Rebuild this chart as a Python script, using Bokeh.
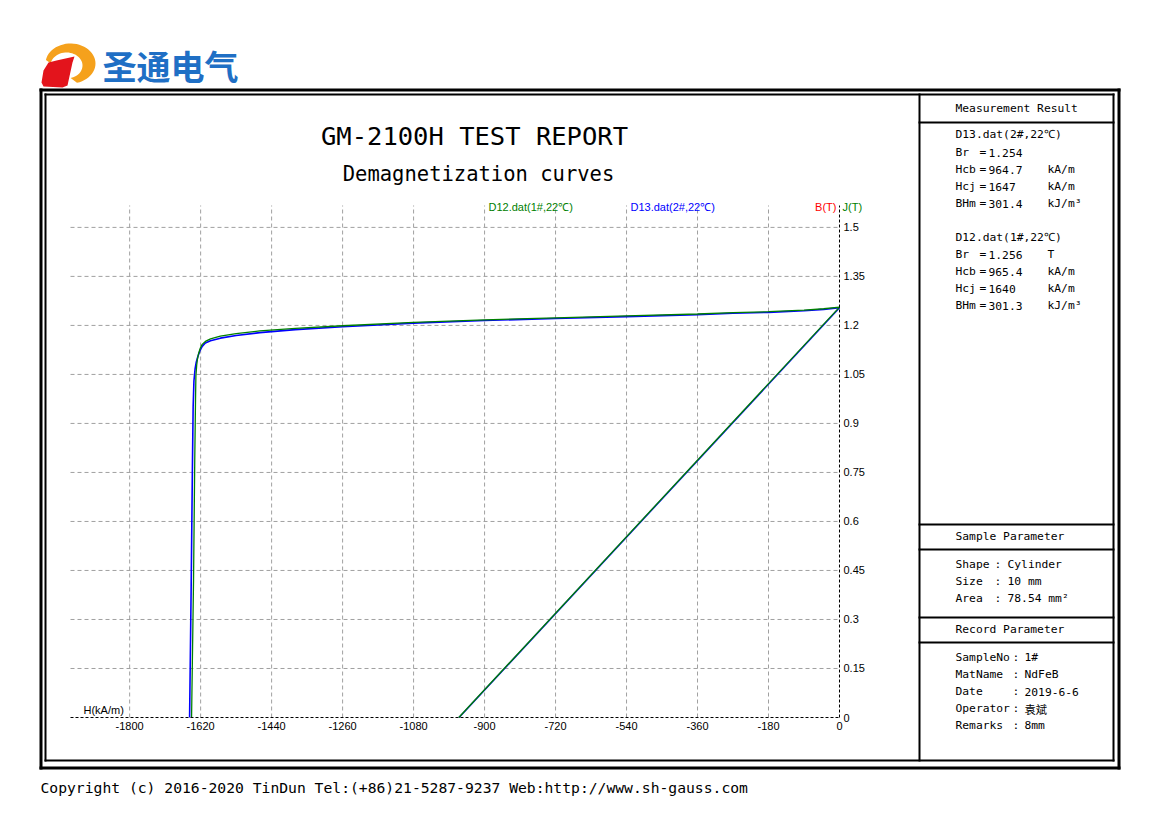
import numpy as np
from bokeh.plotting import figure
from bokeh.models import Range1d
from bokeh.core.properties import value
from bokeh.embed import file_html
from bokeh.resources import INLINE

# ---------------- data ----------------
# D13.dat (2#, 22C) : J(H) demagnetization curve (blue)
H_D13 = [0, -40, -90, -180, -270, -360, -540, -720, -900, -1080, -1260, -1380, -1470,
         -1530, -1570, -1595, -1608, -1616, -1622, -1627, -1631, -1634, -1637, -1639,
         -1641, -1644, -1648]
J_D13 = [1.254, 1.249, 1.245, 1.240, 1.237, 1.233, 1.227, 1.221, 1.215, 1.207, 1.196,
         1.187, 1.178, 1.169, 1.161, 1.153, 1.146, 1.136, 1.122, 1.105, 1.088, 1.068,
         1.030, 0.95, 0.75, 0.40, 0.0]
# D12.dat (1#, 22C) : J(H) demagnetization curve (green)
H_D12 = [0, -40, -90, -180, -270, -360, -540, -720, -900, -1080, -1260, -1380, -1470,
         -1530, -1570, -1595, -1608, -1616, -1621, -1625, -1628, -1630, -1632, -1633,
         -1635, -1638, -1643]
J_D12 = [1.256, 1.251, 1.247, 1.242, 1.239, 1.235, 1.229, 1.223, 1.217, 1.209, 1.199,
         1.191, 1.183, 1.175, 1.167, 1.159, 1.151, 1.142, 1.130, 1.115, 1.098, 1.078,
         1.045, 0.97, 0.78, 0.42, 0.0]
# B(H) lines: from (-Hcb, 0) to (0, Br)
B_H_D13 = [-964.7, 0]
B_B_D13 = [0, 1.254]
B_H_D12 = [-965.4, 0]
B_B_D12 = [0, 1.256]

X_TICKS = [-1800, -1620, -1440, -1260, -1080, -900, -720, -540, -360, -180, 0]
Y_TICKS = [0, 0.15, 0.3, 0.45, 0.6, 0.75, 0.9, 1.05, 1.2, 1.35, 1.5]
X_TICK_LABELS = [f"{v:g}" for v in X_TICKS]
Y_TICK_LABELS = [f"{v:g}" for v in Y_TICKS]

RESULT_D13 = [("Br", "1.254", ""), ("Hcb", "964.7", "kA/m"),
              ("Hcj", "1647", "kA/m"), ("BHm", "301.4", "kJ/m³")]
RESULT_D12 = [("Br", "1.256", "T"), ("Hcb", "965.4", "kA/m"),
              ("Hcj", "1640", "kA/m"), ("BHm", "301.3", "kJ/m³")]
SAMPLE_PARAMS = [("Shape", "Cylinder"), ("Size", "10 mm"), ("Area", "78.54 mm²")]
RECORD_PARAMS = [("SampleNo", "1#"), ("MatName", "NdFeB"), ("Date", "2019-6-6"),
                 ("Operator", "袁斌"), ("Remarks", "8mm")]

BLUE = "#0000ff"
GREEN = "#008000"

# ---------------- layout ----------------
W, HGT = 1169, 827
# plot-area position on the page (pixels) and its axis limits
FL, FR, FT, FB = 70, 839, 205, 717
H_MIN, H_MAX = -1950.0, 0.0
J_MIN, J_MAX = 0.0, 1.567
sx = (H_MAX - H_MIN) / (FR - FL)
sy = (J_MAX - J_MIN) / (FB - FT)
H_RANGE = Range1d(H_MIN - FL * sx, H_MAX + (W - FR) * sx)
J_RANGE = Range1d(J_MIN - (HGT - FB) * sy, J_MAX + FT * sy)

p = figure(width=W, height=HGT, x_range=Range1d(0, W), y_range=Range1d(HGT, 0),
           output_backend="svg", toolbar_location=None,
           x_axis_type=None, y_axis_type=None, min_border=0)
p.outline_line_color = None
p.background_fill_color = "white"
p.border_fill_color = "white"
p.extra_x_ranges = {"H": H_RANGE}
p.extra_y_ranges = {"J": J_RANGE}

D = dict(x_range_name="H", y_range_name="J")


def txt(xs, ys, texts, size="11px", font="Liberation Sans", color="black",
        align="left", style="normal", xr="default", yr="default"):
    p.text(x=xs, y=ys, text=texts, text_font=value(font), text_font_size=size,
           text_color=color, text_align=align, text_baseline="middle",
           text_font_style=style, x_range_name=xr, y_range_name=yr)


# ---------------- grid & axes ----------------
gx = [t for t in X_TICKS if t != H_MAX]
gy = [t for t in Y_TICKS if t != J_MIN]
p.segment(x0=gx, y0=[J_MIN] * len(gx), x1=gx, y1=[J_MAX] * len(gx),
          line_color="#a0a0a0", line_dash="4 3", line_width=1, **D)
p.segment(x0=[H_MIN] * len(gy), y0=gy, x1=[H_MAX] * len(gy), y1=gy,
          line_color="#a0a0a0", line_dash="4 3", line_width=1, **D)

# ---------------- curves ----------------
p.line(B_H_D13, B_B_D13, line_color=BLUE, line_width=1.5, **D)
p.line(H_D13, J_D13, line_color=BLUE, line_width=1.6, **D)
p.line(B_H_D12, B_B_D12, line_color=GREEN, line_width=1.3, **D)
p.line(H_D12, J_D12, line_color=GREEN, line_width=1.3, **D)

# axis lines (dashed black)
p.segment(x0=[H_MIN, H_MAX], y0=[J_MIN, J_MIN], x1=[H_MAX, H_MAX], y1=[J_MIN, J_MAX],
          line_color="black", line_dash="3 2", line_width=1, **D)
# tick labels
txt(X_TICKS, [725] * len(X_TICKS), X_TICK_LABELS, align="center", xr="H")
txt([843] * len(Y_TICKS), Y_TICKS, Y_TICK_LABELS, yr="J")


# ---------------- decorations ----------------
def box(x0, x1, y0, y1, color="black"):
    p.quad(left=x0, right=x1, top=y0, bottom=y1, fill_color=color, line_color=None)


# outer frame (thick) and inner frame (thin)
box(39, 1120, 88, 91)
box(39, 1120, 766, 769)
box(39, 42, 88, 769)
box(1117, 1120, 88, 769)
box(44, 1114, 93, 95)
box(44, 1114, 759, 761)
box(44, 46, 93, 761)
box(1112, 1114, 93, 761)
# right panel separators
box(918, 920, 93, 761)
box(918, 1114, 121, 123)
box(918, 1114, 523, 525)
box(918, 1114, 548, 550)
box(918, 1114, 616, 618)
box(918, 1114, 641, 643)

MONO = "DejaVu Sans Mono"
PS = "11.3px"


def table(rows, y_start, cols):
    for i, row in enumerate(rows):
        yy = y_start + 17 * i
        for cx, item in zip(cols, row):
            if item:
                font = "Noto Sans CJK SC" if item == "袁斌" else MONO
                txt([cx], [yy], [item], PS, font)


txt([955], [108], ["Measurement Result"], PS, MONO)
txt([955], [134], ["D13.dat(2#,22℃)"], PS, MONO)
table([(n, "=", v, u) for n, v, u in RESULT_D13], 152, (955, 979, 988, 1047))
txt([955], [237], ["D12.dat(1#,22℃)"], PS, MONO)
table([(n, "=", v, u) for n, v, u in RESULT_D12], 254, (955, 979, 988, 1047))

txt([955], [536], ["Sample Parameter"], PS, MONO)
table([(n, ":", v) for n, v in SAMPLE_PARAMS], 564, (955, 994, 1007))
txt([955], [629], ["Record Parameter"], PS, MONO)
table([(n, ":", v) for n, v in RECORD_PARAMS], 657, (955, 1012, 1024))

# titles
txt([474], [135], ["GM-2100H TEST REPORT"], "25.5px", MONO, align="center")
txt([478], [173], ["Demagnetization curves"], "20.5px", MONO, align="center")

# series captions / axis captions
txt([488], [206], ["D12.dat(1#,22℃)"], "11px", "Liberation Sans", GREEN)
txt([630], [206], ["D13.dat(2#,22℃)"], "11px", "Liberation Sans", BLUE)
txt([836], [206], ["B(T)"], "11px", "Liberation Sans", "#ff0000", align="right")
txt([842], [206], ["J(T)"], "11px", "Liberation Sans", GREEN)
txt([83], [709], ["H(kA/m)"], "11px", "Liberation Sans")

# footer
txt([40], [787], ["Copyright (c) 2016-2020 TinDun  Tel:(+86)21-5287-9237 Web:http://www.sh-gauss.com"],
    "14.7px", MONO)

# logo: orange crescent + red shape + blue company name
t_out = np.linspace(np.radians(170), np.radians(-75), 40)
t_in = t_out[::-1]
cres_x = list(70 + 25 * np.cos(t_out)) + list(66 + 16 * np.cos(t_in))
cres_y = list(63 - 20 * np.sin(t_out)) + list(65 - 13 * np.sin(t_in))
p.patch(cres_x, cres_y, fill_color="#f5a11c", line_color=None)
p.patch([48, 56, 74, 72, 67, 62, 43, 41, 43], [62, 60, 56, 62, 85, 87, 86, 82, 70],
        fill_color="#e3141c", line_color=None)
txt([102], [65], ["圣通电气"], "34px", "Noto Sans CJK SC", "#1f6fc5", style="bold")

open("out.html", "w").write(file_html(p, INLINE))
